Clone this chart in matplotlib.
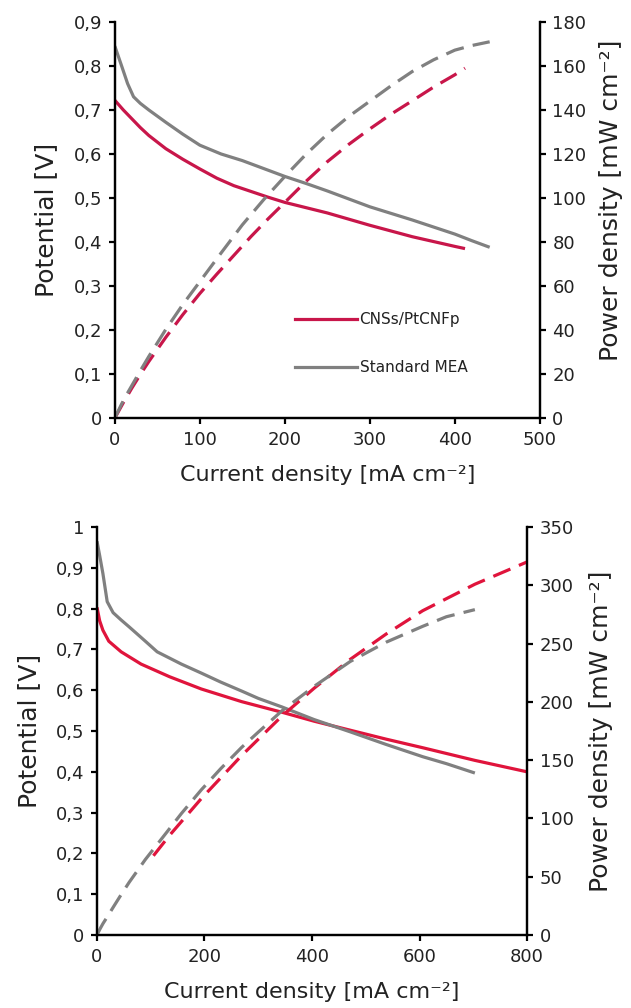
import matplotlib
matplotlib.use("Agg")
import matplotlib.pyplot as plt
from matplotlib.lines import Line2D

plt.rcParams['font.family'] = ['DejaVu Sans']

RED = '#C8164A'
RED2 = '#E0143C'
GRAY = '#808080'
TEXT = '#222222'

# ---- Panel 1: polarization / power curves (0-500 mA cm-2)
top_gray_i = [0, 8, 15, 22, 30, 40, 60, 80, 100, 125, 150, 175, 200, 225, 250,
              275, 300, 325, 350, 375, 400, 420, 441]
top_gray_v = [0.845, 0.80, 0.76, 0.73, 0.715, 0.70, 0.672, 0.645, 0.62, 0.60,
              0.585, 0.567, 0.549, 0.533, 0.516, 0.498, 0.48, 0.465, 0.45,
              0.434, 0.418, 0.403, 0.388]
top_gray_p = [0, 6.4, 11.4, 16.1, 21.5, 28, 40.3, 51.6, 62, 75, 87.8, 99.2,
              109.8, 119.9, 129, 137, 144, 151, 157.5, 162.8, 167.2, 169.3, 171]

top_red_i = [0, 10, 20, 30, 40, 60, 80, 100, 120, 140, 160, 180, 200, 225, 250,
             275, 300, 325, 350, 375, 400, 412]
top_red_v = [0.722, 0.70, 0.68, 0.66, 0.642, 0.612, 0.588, 0.566, 0.545, 0.528,
             0.515, 0.502, 0.49, 0.478, 0.466, 0.452, 0.438, 0.425, 0.412,
             0.401, 0.39, 0.385]
top_red_p = [0, 7, 13.6, 19.8, 25.7, 36.7, 47, 56.6, 65.4, 73.9, 82.4, 90.4, 98,
             107.6, 116.5, 124.3, 131.4, 138.1, 144.2, 150.4, 156, 159]

top_x_ticks = [0, 100, 200, 300, 400, 500]
top_v_ticks = [0, 0.1, 0.2, 0.3, 0.4, 0.5, 0.6, 0.7, 0.8, 0.9]
top_v_labels = ['0', '0,1', '0,2', '0,3', '0,4', '0,5', '0,6', '0,7', '0,8', '0,9']
top_p_ticks = [0, 20, 40, 60, 80, 100, 120, 140, 160, 180]

# ---- Panel 2: polarization / power curves (0-800 mA cm-2)
bot_gray_i = [0, 5, 11, 19, 30, 45, 60, 90, 112, 157, 194, 230, 269, 300, 344,
              404, 471, 538, 606, 650, 703]
bot_gray_v = [0.965, 0.93, 0.886, 0.817, 0.79, 0.772, 0.755, 0.72, 0.694,
              0.664, 0.642, 0.62, 0.598, 0.58, 0.559, 0.528, 0.498, 0.467,
              0.437, 0.42, 0.397]
bot_gray_p = [0, 4.7, 9.7, 15.5, 23.7, 34.7, 45.3, 64.8, 77.7, 104.2, 124.5,
              142.6, 160.9, 174, 192.3, 213.3, 234.6, 251.2, 264.8, 273, 279.1]

bot_red_i = [0, 5, 11, 22, 45, 82, 135, 194, 269, 344, 404, 471, 538, 606, 703, 800]
bot_red_v = [0.803, 0.77, 0.747, 0.72, 0.694, 0.664, 0.633, 0.603, 0.572, 0.546,
             0.524, 0.502, 0.48, 0.459, 0.428, 0.40]
bot_red_pi = [105, 135, 194, 269, 344, 404, 471, 538, 606, 703, 800]
bot_red_p = [68, 85.5, 117, 153.9, 187.8, 211.7, 236.4, 258.2, 278.2, 300.9, 320]

bot_x_ticks = [0, 200, 400, 600, 800]
bot_v_ticks = [0, 0.1, 0.2, 0.3, 0.4, 0.5, 0.6, 0.7, 0.8, 0.9, 1.0]
bot_v_labels = ['0', '0,1', '0,2', '0,3', '0,4', '0,5', '0,6', '0,7', '0,8', '0,9', '1']
bot_p_ticks = [0, 50, 100, 150, 200, 250, 300, 350]

legend_labels = ['CNSs/PtCNFp', 'Standard MEA']

LW = 2.3
DASH = (0, (5.8, 2.9))
TICK_FS = 13
XLABEL_FS = 16
YLABEL_FS = 18


def style_axes(ax, ax2):
    for a in (ax, ax2):
        a.spines['top'].set_visible(False)
        for s in ('left', 'right', 'bottom'):
            a.spines[s].set_linewidth(1.6)
        a.tick_params(direction='out', length=4, width=1.6, labelsize=TICK_FS,
                      colors='black', labelcolor=TEXT, pad=5)
    ax.patch.set_visible(False)


def label_axes(ax, ax2, x_pad, y_pad, r_pad):
    ax.set_xlabel('Current density [mA cm⁻²]', fontsize=XLABEL_FS, color=TEXT,
                  labelpad=x_pad)
    ax.set_ylabel('Potential [V]', fontsize=YLABEL_FS, color=TEXT, labelpad=y_pad)
    ax2.set_ylabel('Power density [mW cm⁻²]', fontsize=YLABEL_FS, color=TEXT,
                   labelpad=r_pad)


fig = plt.figure(figsize=(6.31, 10.08), dpi=100)

# Panel 1
ax1 = fig.add_axes([0.182, 0.5853, 0.6735, 0.3929])
ax1b = ax1.twinx()
ax1.plot(top_red_i, top_red_v, color=RED, lw=LW, solid_capstyle='butt')
ax1.plot(top_gray_i, top_gray_v, color=GRAY, lw=LW, solid_capstyle='butt')
ax1b.plot(top_red_i, top_red_p, color=RED, lw=LW, linestyle=DASH)
ax1b.plot(top_gray_i, top_gray_p, color=GRAY, lw=LW, linestyle=DASH)
ax1.set_xlim(0, 500)
ax1.set_ylim(0, 0.9)
ax1b.set_ylim(0, 180)
ax1.set_xticks(top_x_ticks)
ax1.set_yticks(top_v_ticks)
ax1.set_yticklabels(top_v_labels)
ax1b.set_yticks(top_p_ticks)
style_axes(ax1, ax1b)
label_axes(ax1, ax1b, 12, 11, 9)
ax1b.yaxis.label.set_y(0.55)

handles = [Line2D([], [], color=RED, lw=LW), Line2D([], [], color=GRAY, lw=LW)]
ax1b.legend(handles, legend_labels, loc='upper left', bbox_to_anchor=(0.425, 0.268),
            frameon=False, fontsize=11, handlelength=4.0, handletextpad=0.2,
            labelspacing=2.2, borderpad=0, borderaxespad=0, labelcolor=TEXT)

# Panel 2
ax2 = fig.add_axes([0.1537, 0.0724, 0.6815, 0.4048])
ax2b = ax2.twinx()
ax2.plot(bot_red_i, bot_red_v, color=RED2, lw=LW, solid_capstyle='butt')
ax2.plot(bot_gray_i, bot_gray_v, color=GRAY, lw=LW, solid_capstyle='butt')
ax2b.plot(bot_red_pi, bot_red_p, color=RED2, lw=LW, linestyle=DASH)
ax2b.plot(bot_gray_i, bot_gray_p, color=GRAY, lw=LW, linestyle=DASH)
ax2.set_xlim(0, 800)
ax2.set_ylim(0, 1.0)
ax2b.set_ylim(0, 350)
ax2.set_xticks(bot_x_ticks)
ax2.set_yticks(bot_v_ticks)
ax2.set_yticklabels(bot_v_labels)
ax2b.set_yticks(bot_p_ticks)
style_axes(ax2, ax2b)
label_axes(ax2, ax2b, 12, 11, 11)

fig.savefig('out.png', dpi=100, facecolor='white')
